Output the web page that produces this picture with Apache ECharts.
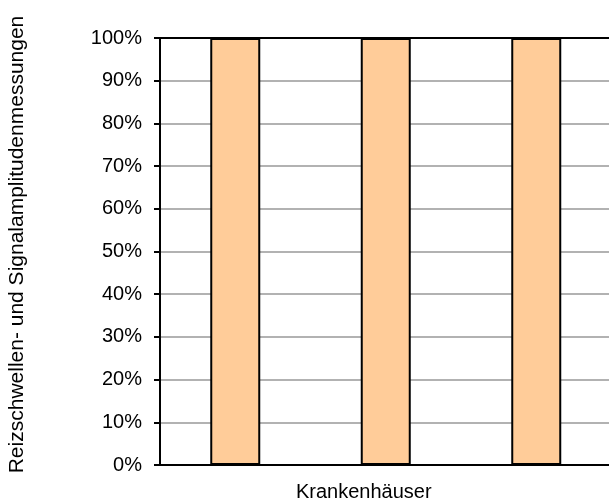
<!DOCTYPE html>
<html>
<head>
<meta charset="utf-8">
<script src="https://cdn.jsdelivr.net/npm/echarts@6/dist/echarts.min.js"></script>
<style>
  html, body { margin: 0; padding: 0; background: #fff; }
  #chart { width: 609px; height: 503px; }
</style>
</head>
<body>
<div id="chart"></div>
<script>
const categories = ['A', 'B', 'C']
const values = [100, 100, 100]
const yTicks = [0, 10, 20, 30, 40, 50, 60, 70, 80, 90, 100]

const chart = echarts.init(document.getElementById('chart'))
const font = 'Liberation Sans, Arial, sans-serif'

chart.setOption({
  animation: false,
  grid: { left: 160, right: -2.5, top: 38, bottom: 38, containLabel: false, outerBoundsMode: 'none' },
  xAxis: [
    {
      type: 'category',
      data: categories,
      name: 'Krankenhäuser',
      nameLocation: 'middle',
      nameGap: 17,
      nameTextStyle: { fontFamily: font, fontSize: 20, color: '#000', padding: [0, 44, 0, 0] },
      axisLine: { lineStyle: { color: '#000', width: 2 } },
      axisTick: { show: false },
      axisLabel: { show: false }
    },
    {
      // black frame line at the 100% level
      type: 'category',
      data: categories,
      position: 'top',
      axisLine: { lineStyle: { color: '#000', width: 2 } },
      axisTick: { show: false },
      axisLabel: { show: false }
    }
  ],
  yAxis: {
    type: 'value',
    min: yTicks[0],
    max: yTicks[yTicks.length - 1],
    interval: 10,
    name: 'Reizschwellen- und Signalamplitudenmessungen',
    nameLocation: 'middle',
    nameGap: 132,
    nameRotate: 90,
    nameTextStyle: { fontFamily: font, fontSize: 21, color: '#000', padding: [0, 0, 0, 14] },
    axisLine: { show: true, lineStyle: { color: '#000', width: 2 } },
    axisTick: { show: true, length: 6, lineStyle: { color: '#000', width: 2 } },
    axisLabel: { formatter: '{value}%', fontFamily: font, fontSize: 20, color: '#000', margin: 18 },
    splitLine: { lineStyle: { color: '#999', width: 1.5 } }
  },
  series: [{
    type: 'bar',
    data: values,
    barWidth: 50,
    itemStyle: { color: '#FFCC99', borderColor: '#000', borderWidth: 2 }
  }]
})
</script>
</body>
</html>
